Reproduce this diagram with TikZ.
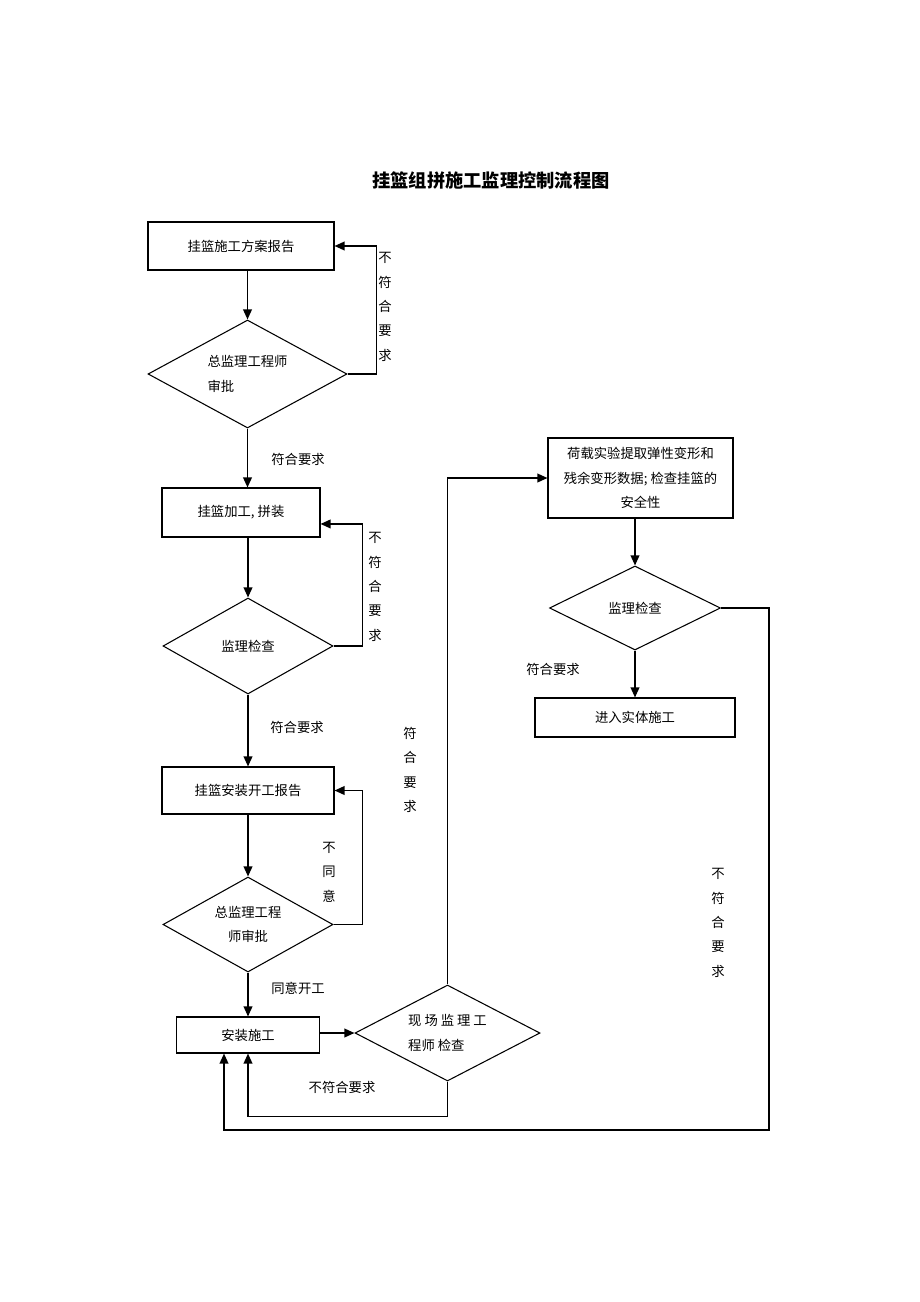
\documentclass[tikz,border=0pt]{standalone}
\usepackage{fontspec}
\setmainfont{Noto Sans CJK SC}
\usepackage{tikz}
\usetikzlibrary{arrows.meta,shapes.geometric}

\begin{document}
\begin{tikzpicture}[x=0.75pt, y=-0.75pt,
        box/.style={draw, line width=0.8pt, inner sep=2pt, font=\fontsize{10}{18.5}\selectfont, align=center},
        check/.style={draw, diamond, line width=0.8pt, inner sep=0pt, aspect=1.8, font=\fontsize{10}{18.5}\selectfont},
        lbl/.style={inner sep=0pt, font=\fontsize{10}{12}\selectfont},
        vlbl/.style={inner sep=0pt, align=center, font=\fontsize{10}{18.3}\selectfont},
        arr/.style={-{Triangle[length=7.5pt, width=6.5pt]}, line width=1.1pt}
]
    \useasboundingbox (0,0) rectangle (920,1302);
    \node[lbl, font=\fontsize{13.7}{16}\selectfont\bfseries] (title) at (491,181) {挂篮组拼施工监理控制流程图};

    % left column
    \node[box, minimum width=139.5pt, minimum height=36pt] (b1) at (241,246) {挂篮施工方案报告};
    \node[check, minimum width=149.25pt, minimum height=81pt, align=left] (d1) at (247.5,374) {总监理工程师\\审批};
    \node[box, minimum width=118.5pt, minimum height=36.75pt] (b2) at (241,512.5) {挂篮加工, 拼装};
    \node[check, minimum width=127.5pt, minimum height=72pt] (d2) at (248,646) {监理检查};
    \node[box, minimum width=129pt, minimum height=35.25pt] (b3) at (248,790.5) {挂篮安装开工报告};
    \node[check, minimum width=127.5pt, minimum height=71.25pt, align=center] (d3) at (248,924.5) {总监理工程\\师审批};
    \node[box, minimum width=107.25pt, minimum height=27pt] (b4) at (248,1035) {安装施工};
    \node[check, minimum width=138.75pt, minimum height=72pt, align=left] (d4) at (447.5,1033) {现 场 监 理 工\\程师 检查};

    % right column
    \node[box, minimum width=138.75pt, minimum height=60pt] (b5) at (640.5,478) {荷载实验提取弹性变形和\\残余变形数据; 检查挂篮的\\安全性};
    \node[check, minimum width=128.25pt, minimum height=63pt] (d5) at (635,608) {监理检查};
    \node[box, minimum width=150pt, minimum height=29.25pt] (b6) at (635,717.5) {进入实体施工};

    % labels
    \node[vlbl] (n1) at (385,307) {不\\符\\合\\要\\求};
    \node[lbl] (y1) at (298,459) {符合要求};
    \node[vlbl] (n2) at (375,587) {不\\符\\合\\要\\求};
    \node[lbl] (y2) at (297,727) {符合要求};
    \node[vlbl] (y3) at (410,770) {符\\合\\要\\求};
    \node[vlbl] (n3) at (329,872) {不\\同\\意};
    \node[lbl] (y4) at (298,988) {同意开工};
    \node[lbl] (n4) at (342,1087) {不符合要求};
    \node[lbl] (y5) at (553,669) {符合要求};
    \node[vlbl] (n5) at (718,923) {不\\符\\合\\要\\求};

    % connectors
    \draw[arr] (b1.south -| d1.north) -- (d1.north);
    \draw[arr] (d1.east) -- ++(29,0) |- (b1.east);
    \draw[arr] (d1.south) -- (d1.south |- b2.north);
    \draw[arr] (b2.south -| d2.north) -- (d2.north);
    \draw[arr] (d2.east) -- ++(29,0) |- ([yshift=-8.6pt]b2.east);
    \draw[arr] (d2.south) -- (b3.north);
    \draw[arr] (b3.south) -- (d3.north);
    \draw[arr] (d3.east) -- ++(29,0) |- (b3.east);
    \draw[arr] (d3.south) -- (b4.north);
    \draw[arr] (d4.west -| b4.east) -- (d4.west);
    \draw[arr] (d4.north) |- (b5.west);
    \draw[arr] (d4.south) -- ++(0,35) -| (b4.south);
    \draw[arr] (b5.south -| d5.north) -- (d5.north);
    \draw[arr] (d5.south) -- (b6.north);
    \draw[arr] (d5.east) -- ++(48,0) -- ++(0,522) -| ([xshift=-18pt]b4.south);
\end{tikzpicture}
\end{document}
